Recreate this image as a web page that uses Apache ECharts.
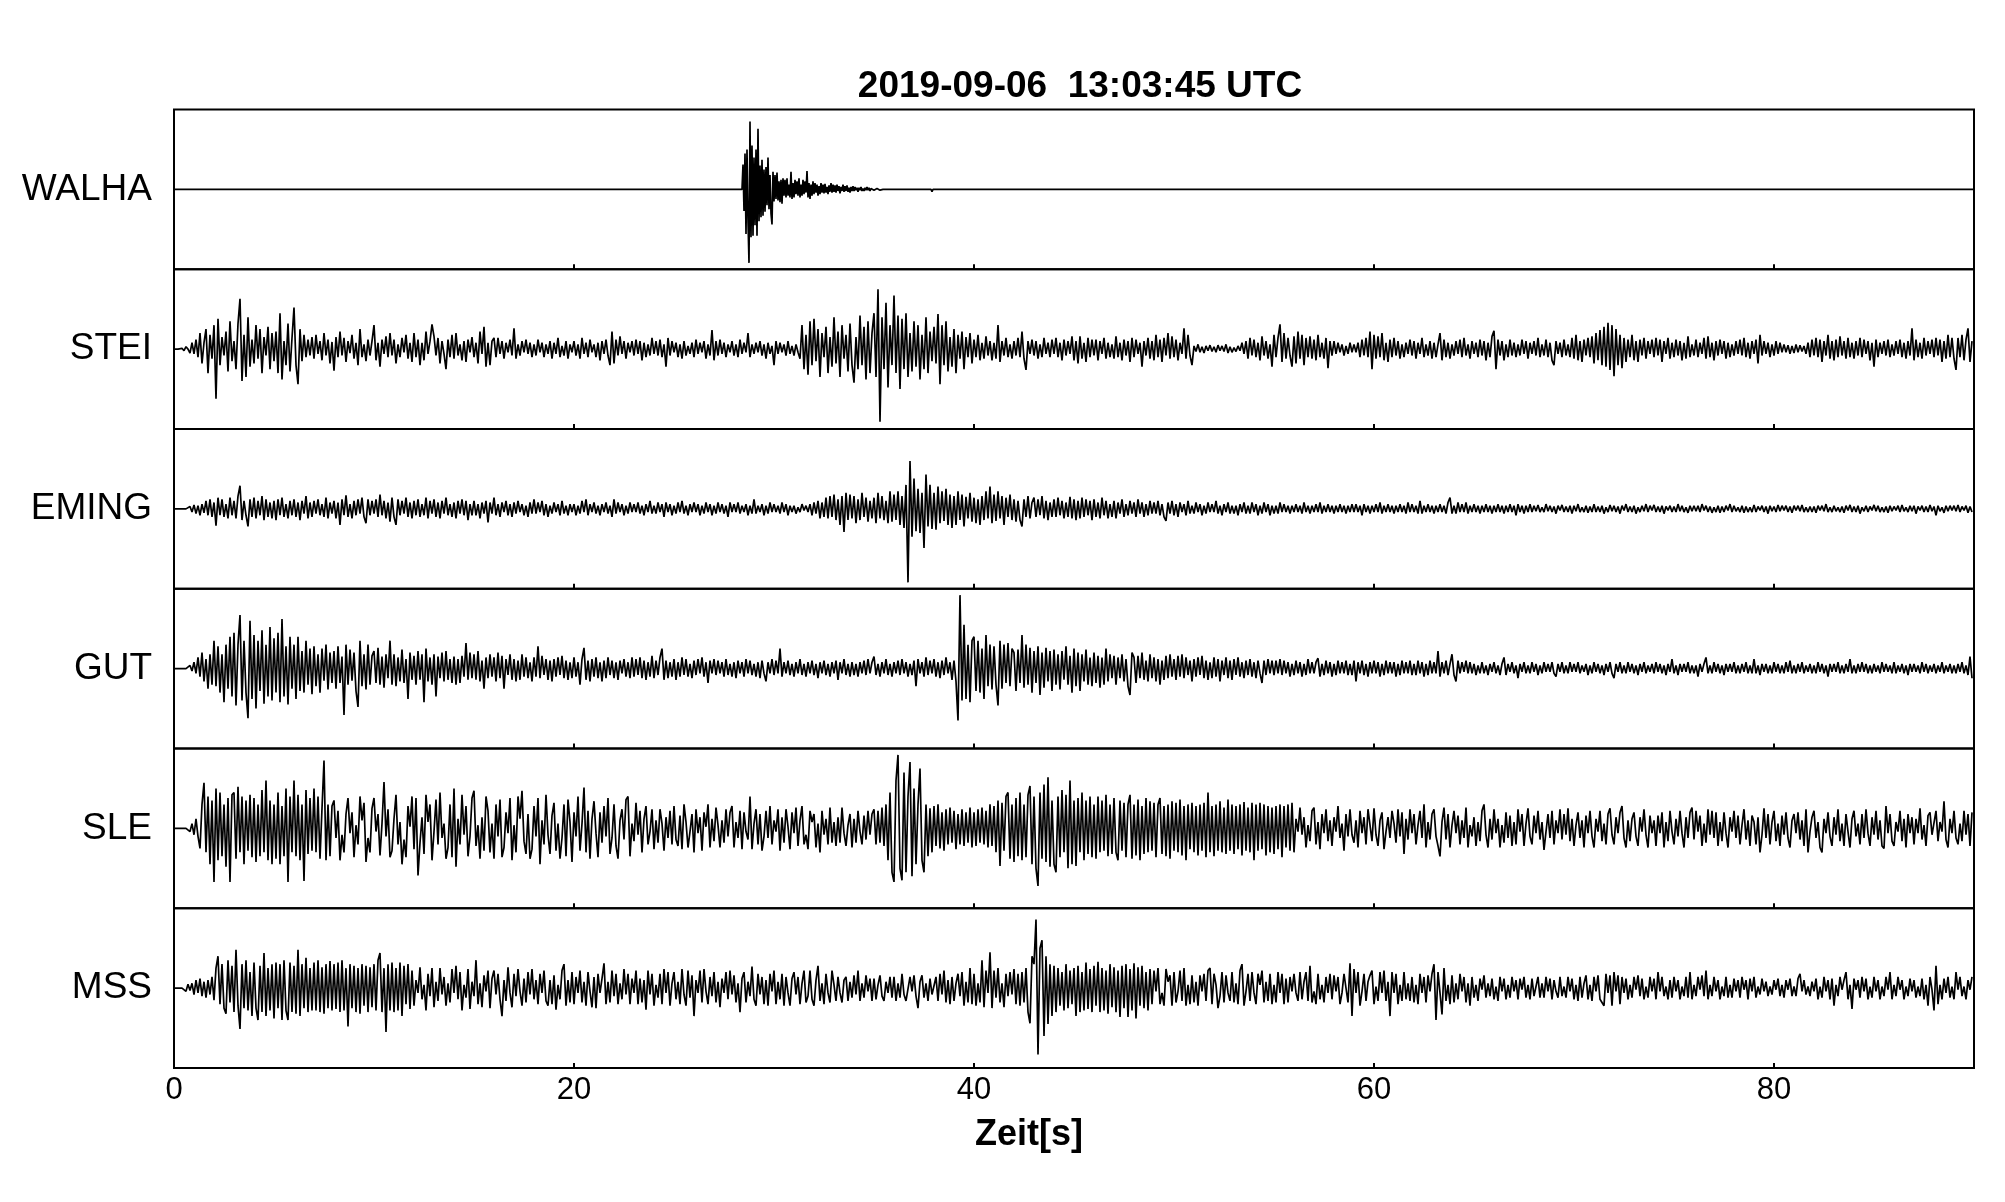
<!DOCTYPE html>
<html>
<head>
<meta charset="utf-8">
<script src="https://cdn.jsdelivr.net/npm/echarts@6/dist/echarts.min.js"></script>
<style>html,body{margin:0;padding:0;background:#fff}#c{width:2005px;height:1202px}</style>
</head>
<body>
<div id="c"></div>
<script>
// ---------------- data ----------------
const titleText = '2019-09-06  13:03:45 UTC';
const xAxisTitle = 'Zeit[s]';
const stations = ['WALHA', 'STEI', 'EMING', 'GUT', 'SLE', 'MSS'];
const xTicks = [0, 20, 40, 60, 80];
const timeMax = 90;
const sampleStep = 0.1; // s, for STEI..MSS

// WALHA: flat except the event, sampled every 0.05 s from 28.40 s
const walhaEventStart = 28.4;
const walhaEventStep = 0.05;
const walhaEvent = [
0,31,-27,45,-56,50,-40,-92,85,-60,55,-58,
40,-45,50,-58,76,-40,30,-35,37,-33,25,-28,28,-20,40,-25,18,-30,-44,22,
-15,18,-12,21,-14,10,-16,12,-18,14,
-8,12,-10,14,-8,6,-10,22,-12,8,
-10,12,-6,10,-8,14,-10,6,-8,12,
-6,10,-4,23,-10,8,-12,6,-8,10,
-6,8,-4,6,-8,4,-6,8,-4,6,
-5,7,-4,3,-6,5,-3,8,-4,6,
-3,5,-4,6,-2,4,-5,3,-2,6,
-3,4,-2,5,-3,2,-4,3,-2,4,
-2,3,-1,2,-3,2,-1,3,-2,1,
-2,2,-1,3,-1,2,-2,1,-1,2,
-1,1,-2,1,0,1,-1,0,1,0,
0,1,0
];
const walhaBlipT = [37.85, 37.9, 37.95];
const walhaBlipV = [0, -3, 0];

const stei = [
0,0,0,0,1,-2,3,0,-5,8,
-6,12,-10,20,-18,8,25,-30,18,-12,
30,-62,38,-20,15,-8,22,-28,35,-15,
10,-25,32,63,-40,18,-35,40,-22,12,
-18,30,-12,25,-30,15,-8,28,-25,20,
-15,22,-30,45,-38,10,-20,32,-28,14,
52,-20,-44,25,-15,18,-10,12,-8,15,
-12,18,-6,10,-14,20,-8,12,-18,9,
-27,15,-10,22,-8,14,-16,10,-5,18,
-12,8,-20,25,-10,6,-15,12,-8,10,
30,-14,8,-22,12,-6,16,-10,20,-8,
12,-18,6,-10,14,-4,18,-12,8,-16,
20,-10,12,-20,8,-14,22,-6,10,31,
16,-8,14,-18,10,-6,-25,12,-10,18,
-12,20,-8,6,-14,10,-16,12,-4,15,
-10,8,-18,22,-6,28,-22,8,-20,10,
14,-10,14,-6,10,-12,8,-4,12,-8,
26,-12,6,-8,10,-4,12,-6,8,-10,
6,-8,12,-4,8,-10,6,-6,10,-12,
8,-6,14,-10,4,-8,10,-12,6,-4,
10,-8,6,-12,14,-6,8,-10,12,-4,
6,-10,8,-14,10,-6,12,-8,-20,22,
-18,12,-8,16,-6,10,-12,8,-4,10,
-8,12,-6,10,-14,8,-10,6,-8,14,
-6,10,-8,12,-10,6,-22,14,-8,10,
-4,8,-10,6,-12,10,-8,4,-6,8,
-10,12,-6,8,-4,10,-12,6,-8,24,
-14,10,-8,12,-6,8,-10,6,-4,10,
-8,6,-10,12,-6,8,-4,20,-10,6,
-6,8,-4,10,-8,6,-12,8,-6,4,
-20,10,-6,8,-4,6,-8,10,-6,4,
-8,6,-4,-12,30,-25,18,-32,35,-20,
38,-15,25,-35,20,-10,28,-30,15,-22,
40,-18,22,-35,30,-12,18,-28,32,-20,
-42,15,-25,42,-20,28,-38,35,-30,20,
45,-35,75,-91,40,-25,58,-48,30,-20,
67,-30,42,-50,38,-25,45,-35,20,-28,
35,-22,30,-38,18,-25,40,-30,22,-15,
28,-18,44,-44,30,-20,35,-28,15,-22,
25,-30,18,-12,22,-25,15,-10,20,-18,
12,-10,18,-14,8,-12,16,-8,10,-14,
8,-12,30,-16,10,-8,14,-10,6,-12,
10,-8,14,-10,22,-12,-26,10,-6,12,
-8,10,-12,6,-10,14,-6,8,-10,12,
-6,14,-10,8,-14,12,-8,10,-6,16,
-14,10,-18,16,-12,8,-16,14,-10,12,
-8,12,-14,10,-6,14,-12,8,-10,6,
-12,16,-10,8,-14,12,-8,10,-16,14,
-10,12,-6,8,-22,10,-8,14,-12,10,
-14,18,-10,12,-16,14,-8,20,-12,16,
-10,12,-14,8,-6,26,-12,18,-8,-20,
4,-3,6,-4,3,-5,4,-2,5,-3,
3,-4,5,-2,4,-3,6,-5,3,-4,
2,-3,4,-2,8,-6,10,-12,14,-8,
12,-10,8,-14,16,-8,10,-12,6,-22,
18,-10,14,31,-16,20,-12,14,-8,-22,
16,-18,22,-12,18,-20,14,-10,16,-12,
12,-14,18,-10,8,-12,14,-24,10,-8,
10,-6,8,-4,6,-8,4,-6,8,-4,
6,-4,8,-10,12,-8,14,-10,22,-25,
18,-12,16,-10,20,-14,8,-16,12,-10,
14,-8,10,-12,6,-10,8,-6,12,-8,
10,-12,8,-6,14,-10,6,-8,10,-12,
8,-10,6,20,-14,12,-10,8,-12,6,
-8,10,-6,12,-10,14,-8,6,-12,10,
-6,8,-10,12,-8,10,-14,8,-10,16,
23,-25,12,-8,10,-14,6,-10,12,-8,
8,-10,6,-8,12,-6,10,-12,8,-6,
10,-8,14,-10,6,-8,12,-10,8,-14,
-20,10,-6,8,-10,12,-8,6,-10,14,
-12,18,-14,10,-16,12,-8,14,-10,16,
-18,20,-14,24,-20,28,-22,33,-26,30,
-34,25,-20,18,-24,14,-16,12,-10,18,
-14,10,-16,12,-8,14,-12,10,-6,12,
-10,14,-8,12,-16,10,-6,14,-12,8,
-10,12,-8,10,-14,8,-12,16,-10,6,
-8,12,-10,8,-6,14,-12,16,-10,8,
-14,10,-8,12,-6,10,-12,8,-10,6,
-8,10,-6,12,-8,14,-10,8,-12,10,
-6,12,-18,18,-8,10,-6,8,-10,6,
-8,10,-6,8,-4,6,-4,5,-6,4,
-5,6,-4,5,-3,4,-6,8,-10,12,
-8,14,-10,12,-16,10,-8,18,-12,10,
-14,12,-10,16,-8,10,-12,14,-10,8,
-12,10,-8,14,-10,12,-6,10,-14,8,
-22,12,-10,8,-6,10,-8,12,-10,6,
-8,10,-6,12,-10,8,-12,10,-8,26,
-14,12,-10,8,-12,14,-8,10,-6,12,
-10,14,-8,12,-16,10,-12,18,-10,14,
-12,-26,14,-10,18,-14,12,26,-16,10
];

const eming = [
0,0,0,0,0,0,0,-2,3,-4,
5,-6,4,-8,6,-5,10,-8,12,-10,
8,-21,14,-8,12,-10,6,-12,14,-8,
10,-12,16,29,-14,10,-8,-22,12,-10,
14,-12,10,-8,16,-14,12,-10,8,-12,
10,-14,12,-8,14,-10,6,-12,10,-8,
12,-10,8,-14,10,-6,16,-12,8,-10,
10,-6,12,-8,6,-10,14,-12,8,-6,
10,-12,8,-20,12,-8,17,-10,6,-12,
10,-8,12,-6,14,-10,-18,12,-8,10,
-6,12,-10,18,-8,10,-12,8,-16,14,
-10,-20,12,-8,10,-6,14,-10,8,-12,
10,-8,12,-10,6,-8,14,-12,10,-6,
12,-10,8,-12,10,-6,14,-8,6,-10,
8,-12,10,-6,12,-8,10,-14,6,-8,
10,-8,6,-12,8,-6,10,-17,8,-6,
14,-8,6,-10,8,-4,10,-8,6,-10,
8,-6,10,-4,6,-8,4,-10,8,-6,
12,-6,8,-4,10,-8,6,-10,4,-6,
8,-4,6,-8,10,-6,4,-8,6,-4,
6,-8,4,-6,10,-4,12,-8,6,-4,
8,-6,4,-8,6,-4,8,-6,4,-10,
12,-6,8,-4,6,-8,4,-6,8,-4,
6,-4,8,-6,4,-8,6,-4,10,-6,
4,-6,8,-4,6,-10,8,-4,6,-8,
4,-6,8,-4,10,-6,4,-8,6,-4,
8,-4,6,-8,4,-6,8,-4,6,-8,
4,-6,8,-4,6,-6,4,-10,8,-4,
6,-4,8,-6,4,-4,6,-8,4,-6,
12,-6,4,-4,6,-8,4,-6,8,-4,
6,-4,4,-6,8,-4,6,-8,4,-4,
4,-6,2,-4,6,-2,4,-4,6,-8,
8,-6,10,-12,8,-10,14,-12,16,-10,
18,-14,12,-20,16,-29,20,-14,18,-12,
16,-18,12,-14,20,-10,14,-16,10,-12,
14,-18,20,-12,16,-14,10,-18,22,-16,
18,-14,22,-20,16,-24,30,-92,60,-35,
38,-28,25,-30,20,-49,43,-22,30,-25,
20,-26,28,-18,22,-15,25,-20,18,-24,
16,-20,22,-14,18,-22,15,-12,20,-16,
14,-18,12,-20,16,-14,22,-12,28,-18,
18,-15,22,-12,16,-20,14,-10,18,-14,
12,-16,10,-14,-22,12,-10,16,-12,8,
14,-10,12,-8,16,-12,10,-14,8,-10,
12,-10,14,-8,10,-12,8,-10,15,-12,
12,-14,10,-12,14,-10,12,-8,10,-14,
12,-10,8,-12,14,-8,10,-12,6,-10,
10,-12,8,-6,12,-10,6,-8,10,-6,
8,-10,12,-6,8,-10,6,-8,10,-6,
8,-6,10,-8,6,-10,-15,8,-6,10,
-8,6,-10,8,-4,6,-8,10,-6,4,
-6,8,-4,6,-8,4,-6,8,-4,6,
-4,10,-6,4,-8,6,-4,8,-6,4,
-6,4,-8,6,-4,8,-6,4,-6,8,
-4,6,-8,4,-6,8,-4,6,-8,4,
-6,4,-6,8,-4,6,-4,4,-6,4,
-4,6,-4,4,-6,8,-4,4,-6,4,
-4,6,-4,8,-6,4,-4,6,-4,4,
-6,4,-4,6,-4,4,-6,4,-4,6,
-4,6,-4,4,-8,6,-4,4,-6,4,
-4,6,-4,8,-6,4,-4,6,-4,4,
-6,4,-4,6,-4,4,-6,8,-4,6,
-4,4,-6,10,-6,4,-4,6,-4,4,
-6,4,-4,6,-4,4,-6,8,14,-6,
4,-6,8,-4,6,-4,8,-6,4,-4,
6,-4,4,-6,4,-4,6,-4,4,-6,
4,-4,6,-4,4,-6,4,-4,6,-4,
4,-8,6,-4,4,-6,4,-4,6,-4,
4,-3,5,-4,2,-4,6,-3,4,-4,
3,-6,4,-2,5,-4,3,-4,4,-6,
4,-3,6,-4,2,-4,4,-5,3,-4,
6,-4,3,-4,4,-6,2,-4,5,-3,
4,-4,3,-6,4,-2,6,-4,3,-4,
4,-6,2,-4,4,-3,6,-4,4,-2,
5,-4,3,-4,4,-6,3,-2,4,-4,
3,-4,6,-3,4,-4,2,-5,4,-3,
4,-3,4,-4,6,-2,4,-4,3,-5,
2,-4,4,-5,3,-4,4,-2,6,-4,
4,-3,2,-4,4,-5,3,-4,2,-4,
5,-4,3,-2,4,-4,3,-6,4,-3,
3,-4,5,-3,4,-2,4,-4,3,-5,
4,-2,4,-3,5,-4,2,-4,3,-4,
3,-5,4,-2,4,-3,6,-4,2,-4,
4,-3,2,-4,3,-5,4,-2,5,-4,
3,-4,4,-6,2,-3,4,-4,3,-2,
5,-3,4,-4,2,-4,3,-5,4,-3,
3,-2,4,-4,5,-3,2,-4,4,-3,
4,-6,3,-2,4,-4,3,-4,5,-3,
3,-8,4,-3,2,-5,4,-3,4,-2,
4,-3,5,-4,3,-2,4,-5,3,-4
];

const gut = [
0,0,0,0,0,0,0,-2,4,-3,
8,-6,14,-10,20,-16,12,-25,18,-20,
35,-22,28,-30,18,-42,30,-25,40,-35,
45,-46,30,67,-40,35,-30,-62,60,-38,
42,-50,35,-28,48,-44,30,-35,52,-40,
38,-30,45,-42,62,-35,28,-45,40,-25,
30,-38,40,-28,22,-30,35,-20,25,-32,
28,-22,18,-30,25,-15,30,-26,20,-18,
22,-25,28,-18,15,-58,30,-20,24,-15,
20,-28,-48,35,-22,18,-26,30,-20,16,
22,-18,26,-20,15,-24,18,-12,35,-20,
18,-22,14,-16,24,-18,12,-38,20,-14,
16,-20,22,-14,18,-42,25,-16,14,-20,
18,-35,15,-12,20,-16,22,-14,12,-18,
15,-20,12,-18,16,-10,32,-14,20,-12,
18,-14,22,-16,10,-25,14,-12,18,-10,
14,-16,20,-12,16,-25,12,-8,18,-14,
12,-16,10,-14,18,-10,14,-12,8,-16,
14,-10,28,-12,16,-8,12,-14,10,-16,
12,-10,14,-8,16,-12,10,-14,8,-12,
14,-10,8,-20,12,26,-14,10,-16,12,
-10,14,-12,8,-16,10,-12,14,-8,10,
-12,8,-14,10,-6,12,-10,8,-12,14,
-10,12,-8,14,-12,10,-14,8,-10,16,
-12,10,-8,14,25,-14,10,-12,8,-10,
12,-14,8,-10,14,-8,12,-10,6,-12,
10,-8,12,-6,14,-10,8,-18,10,-6,
12,-8,10,-6,8,-10,12,-8,6,-10,
8,-12,10,-6,8,-10,12,-6,10,-8,
6,-10,8,-12,10,-6,-16,8,-6,12,
-8,10,-6,25,-10,8,-6,10,-8,6,
-10,8,-6,12,-8,6,-10,8,-6,10,
-8,6,-12,8,-6,10,-8,6,-10,8,
-6,10,-14,8,-6,12,-8,6,-10,8,
-8,6,-10,8,-6,10,-8,12,-6,8,
15,-8,6,-10,8,-6,12,-8,6,-10,
8,-6,10,-8,12,-6,8,-10,6,-8,
10,-22,12,-6,8,-10,14,-8,10,-6,
12,-10,8,-12,10,-8,14,-6,8,-14,
10,-16,-65,92,-40,55,-38,30,-42,35,
40,-28,35,-30,25,-38,42,-22,30,-26,
28,-20,-46,35,-25,30,-18,32,-22,25,
20,-28,24,-18,42,-24,30,-20,26,-30,
22,-18,28,-33,20,-24,26,-16,22,-28,
24,-20,18,-26,22,-14,28,-20,16,-30,
25,-22,20,-28,18,-16,24,-20,14,-22,
20,-18,16,-24,14,-20,25,-16,18,-12,
16,-20,14,-12,18,-16,12,-22,-33,20,
14,-18,16,-12,20,-14,10,-16,18,-12,
14,-16,12,-20,10,-14,16,-12,18,-10,
12,-14,16,-10,18,-12,14,-8,10,-16,
12,-10,14,-8,16,-12,10,-14,8,-12,
14,-10,12,-16,10,-8,14,-12,10,-14,
12,-8,14,-10,8,-12,10,-8,12,-10,
8,-12,10,-6,-18,10,-8,12,-6,10,
-8,10,-6,12,-8,10,-6,8,-10,6,
-8,10,-6,8,-10,6,-8,12,-6,8,
-6,8,13,-10,6,-8,10,-6,8,-10,
6,-8,10,-6,8,-6,10,-8,6,-8,
10,-16,8,-6,10,-8,6,-10,8,-6,
10,-6,8,-10,6,-8,10,-6,8,-6,
8,-10,6,-8,10,-6,8,-6,10,-8,
6,-8,10,-6,8,-10,6,-8,10,-6,
8,-6,22,-10,8,-6,10,-8,6,18,
-8,-16,10,-6,8,-4,10,-6,8,-6,
6,-8,4,-6,8,-6,4,-8,6,-4,
8,-6,4,-8,6,14,-8,6,-4,8,
-6,4,-12,6,-4,8,-6,4,-6,8,
-4,6,-8,4,-6,8,-4,6,-4,8,
-6,-10,6,-4,8,-6,4,-6,8,-4,
6,-4,8,-6,4,-4,6,-8,4,-6,
8,-4,6,-6,4,-8,6,-4,8,-6,
-12,6,-4,8,-6,4,-6,8,-4,6,
-6,4,-8,6,-4,8,-6,4,-4,6,
-6,8,-4,6,-6,4,-8,6,-4,12,
-6,4,-8,6,-4,6,-4,8,-6,4,
-6,4,-10,6,-4,6,14,-6,4,-6,
8,-4,6,-6,4,-8,6,-4,6,-4,
8,-6,4,-6,6,-4,8,-6,4,-6,
12,-6,4,-8,6,-4,6,-6,4,-6,
8,-4,6,-6,4,-6,8,-4,10,-6,
4,-6,6,-4,8,-6,4,-4,6,-6,
4,-6,8,-4,6,-6,4,-10,6,-4,
6,-4,8,-6,4,-6,6,-4,12,-6,
4,-6,6,-4,8,-4,6,-6,4,-6,
6,-4,4,-6,8,-4,6,-4,4,-6,
8,-6,4,-4,6,-6,4,-8,6,-4,
6,-4,4,-6,8,-4,6,-6,4,-4,
6,-6,4,-4,8,-6,4,-4,6,-6,
4,-6,6,-4,8,-6,4,-8,15,-12
];

const sle = [
0,0,0,0,0,0,0,2,-4,6,
-8,12,-10,-25,30,57,-30,40,-45,35,
-67,50,-40,45,-35,30,-48,38,-67,42,
45,-38,52,-30,40,-45,35,-28,42,-36,
38,-42,30,-35,48,-30,60,-40,35,-45,
30,-38,45,-45,28,-35,50,-67,40,-30,
60,-35,42,-40,30,-66,48,-32,38,-28,
50,-30,40,-38,25,85,-40,30,-35,28,
35,-12,22,-40,-8,-30,18,38,-6,20,
-36,4,-20,40,10,32,-42,-12,-30,25,
38,-4,18,-34,6,58,-10,24,-36,-28,
12,42,-20,8,-45,-14,-36,28,2,40,
-26,38,-59,-18,14,-32,42,8,30,-40,
-4,36,-20,45,-12,6,-38,-24,30,-36,
50,-48,12,-20,42,-8,28,-35,-10,38,
47,-22,4,-38,14,-28,40,22,-30,6,
-38,30,-10,36,-36,-24,20,-6,38,-40,
4,-30,40,12,47,-16,-32,18,-38,-26,
28,-10,38,-45,10,-20,42,-8,-32,16,
32,-28,6,-38,-12,30,-35,36,8,-42,
20,-10,40,-28,6,51,-30,22,-38,12,
34,-6,-36,20,-18,28,-10,38,-32,-12,
30,-22,-38,10,24,-14,36,40,-35,6,
-16,32,-8,22,-30,12,28,-20,-4,24,
-26,10,-18,24,6,-28,14,-12,22,-20,
28,-14,-22,16,-26,30,8,-24,-4,18,
-30,24,-6,14,-28,20,2,30,-24,12,
-16,26,4,-24,10,-18,24,-10,20,28,
-24,8,-12,22,-26,20,-4,-14,40,-26,
6,24,-20,18,-28,-10,22,-12,28,-20,
10,-4,24,-28,14,-18,24,2,-26,20,
-6,26,-22,10,28,-20,-8,-26,22,8,
18,-24,6,-30,22,-8,12,-20,26,-18,
8,-22,14,-18,26,-6,-22,4,18,-24,
12,-18,22,-4,-20,16,-14,22,-8,18,
24,-20,22,-18,26,-22,30,-40,45,-55,
-67,60,92,-50,-65,70,-55,40,83,-60,
50,-45,30,75,-40,-55,30,-35,25,-30,
28,-22,30,-25,20,-28,24,-20,26,-18,
22,-26,18,-20,24,-22,20,-18,26,-24,
20,-22,24,-18,26,-20,22,-24,30,-22,
28,-30,35,-47,32,-28,40,45,-38,30,
-42,38,-35,45,-40,30,-36,42,53,-45,
40,-50,-72,45,-38,55,-42,64,-48,35,
-45,-55,40,-36,48,-30,42,-50,60,-45,
35,-47,38,-30,45,-40,35,-32,40,-36,
30,-38,40,-30,35,-28,42,-35,30,-32,
38,-30,-40,35,-28,32,-36,30,42,-38,
30,-34,36,-40,28,-32,38,-30,34,-28,
32,-36,30,38,-32,28,-35,30,-38,34,
-28,32,-30,36,-34,28,-40,30,-26,32,
-30,28,-34,30,-28,32,-36,45,-30,28,
-35,30,-28,34,-30,26,-32,36,-28,30,
-32,28,-26,30,-34,33,-28,26,-30,32,
-40,30,-28,32,-26,30,-34,28,-30,26,
-32,28,-26,30,-36,28,-24,30,-28,32,
-30,12,-4,26,-8,14,-24,4,-16,22,
26,-20,8,-26,18,-6,24,-16,10,-22,
14,-4,28,-12,6,-28,18,-10,24,-8,
-18,10,-24,22,-6,14,-20,24,4,-16,
25,-8,-22,10,20,-26,-4,14,-12,22,
6,-18,24,-10,20,-32,12,-14,24,-6,
18,-20,4,22,-12,30,-24,8,-14,18,
24,-10,-22,-35,8,26,-14,18,-24,4,
22,-6,16,-20,10,-12,26,-24,4,-10,
14,-22,8,-16,22,30,-8,-24,12,-14,
24,-6,12,-24,4,-18,20,-12,16,-22,
8,-20,24,-4,18,-22,6,25,-10,-20,
16,-6,22,-14,8,-27,-4,18,-12,22,
-20,10,-6,24,-14,18,-8,25,-16,12,
-22,4,20,-12,10,-24,16,-6,22,-10,
-24,12,-4,22,-16,6,-20,18,25,-8,
-20,14,-6,20,28,-12,-24,10,-16,12,
20,-10,-22,14,-4,24,-8,-24,16,-6,
10,-22,16,-6,20,-24,8,-16,22,-4,
-20,12,-10,22,-6,-24,14,-12,20,26,
-14,22,-4,16,-22,6,-18,24,-8,22,
-12,20,-22,8,-16,20,-6,-24,14,-4,
22,-12,16,-20,4,24,-14,10,-22,16,
8,-20,14,-30,-8,25,-12,18,-20,8,
22,-16,6,-22,16,-8,20,-12,-24,10,
18,-6,20,-14,10,-22,24,-30,-4,14,
22,-12,8,-24,-30,12,-6,20,-10,-22,
14,-8,24,-16,6,-22,18,-4,-24,12,
22,-10,6,-20,18,-12,24,-6,-22,14,
-8,22,-14,10,-22,-25,28,-6,18,-16,
-22,8,-4,22,-16,12,-24,18,-6,14,
-20,12,-6,25,-14,4,-22,16,20,-8,
-10,22,-16,8,-4,34,-14,-24,12,-6,
22,-12,-20,6,-16,22,-8,18,-22,20
];

const mss = [
0,0,0,0,0,2,-4,5,-3,6,
-8,10,-6,12,-10,8,-12,10,-8,14,
-15,25,40,-20,30,-25,-32,35,-18,28,
-30,48,-22,-51,30,-25,35,-28,20,-35,
32,-25,-40,28,-30,44,-35,25,-28,30,
-38,32,-25,30,-40,35,-28,-40,32,-30,
28,-32,48,-35,30,-25,38,-30,25,-28,
32,-28,35,-30,26,-32,30,-25,34,-28,
30,-26,32,-30,35,-28,25,-48,30,-25,
28,-30,25,-32,30,-22,28,-30,26,-24,
30,-28,35,44,-30,25,-55,30,-28,32,
-30,25,-28,32,-35,28,-20,30,-26,22,
-22,10,-6,26,-14,4,-28,18,-10,25,
-24,8,-16,25,-8,14,-22,6,-18,24,
-6,28,-14,20,-28,4,-12,24,-26,8,
-10,35,-20,6,-24,16,-4,22,-25,12,
22,-8,18,-14,-35,10,-16,26,-6,-24,
18,-10,24,-4,-22,12,-18,20,-8,24,
-14,10,-20,18,-6,22,-16,-22,10,-20,
16,-27,4,-14,22,30,-22,10,-18,20,
-20,14,-6,22,-18,8,-22,20,-4,-24,
14,-25,18,-6,12,31,-20,8,-18,22,
-10,18,-20,6,-14,24,-8,18,-20,12,
-6,22,-20,12,-18,10,-27,22,-8,18,
-22,4,-12,18,-20,24,-6,20,-22,6,
20,-14,8,-20,24,-8,-22,22,-12,16,
-35,10,-6,22,-18,24,-4,-20,14,-10,
20,-18,8,-24,12,-6,20,-14,22,-8,
16,-18,6,-30,12,20,-18,8,-10,27,
-14,-22,18,-8,14,-20,10,-22,18,-4,
22,-20,8,-14,18,-22,14,-6,-22,12,
20,-8,14,-20,6,22,-18,-10,22,-14,
-22,10,28,-16,6,-20,18,-6,-18,22,
4,-16,14,-6,-18,10,14,-16,8,-12,
16,-8,22,-16,6,-12,16,-4,12,-16,
12,-14,4,16,-10,-16,8,-6,14,-12,
14,-16,6,-12,18,-8,-16,-18,14,-4,
16,-10,-25,8,16,-12,6,-16,12,-8,
-6,14,-16,18,-8,22,-18,10,-20,14,
-16,6,18,-10,20,-22,8,-18,25,-20,
18,-22,6,-18,35,-24,22,-6,45,-25,
22,-12,25,-18,6,-24,18,-10,20,-8,
24,-20,18,-22,20,-18,25,-30,-44,40,
30,86,-83,50,60,-60,40,-45,30,-35,
28,-30,25,-22,20,-28,30,-25,22,-20,
25,-35,28,-30,20,-28,32,-26,24,-30,
28,-22,33,-30,25,-28,22,-32,30,-24,
26,-30,22,-36,28,-25,30,-36,24,-28,
31,-38,26,-22,28,-25,20,-28,24,-20,
22,-4,25,-20,-6,-22,24,8,16,-22,
20,-18,-4,22,-16,25,-22,4,-20,16,
-18,8,-22,16,-4,18,-16,22,25,-20,
18,4,-25,-10,20,-18,16,-6,-16,20,
-18,6,-20,22,30,-22,-4,18,-16,20,
-6,-20,18,4,22,-18,8,-16,18,-20,
4,-18,20,-6,18,-20,12,-18,14,-4,
18,-6,-16,20,-14,8,20,-16,28,-18,
-4,-20,18,-14,4,-18,14,-6,18,-14,
16,-4,14,-20,-6,18,20,-18,31,-35,
24,-6,20,-22,-4,18,-16,8,16,22,
-20,2,-16,20,-6,22,-16,8,-35,20,
-6,18,-20,4,-16,20,-14,6,-16,14,
-18,4,-20,18,-6,14,-18,16,-4,18,
30,-40,20,-6,-33,25,-16,4,-20,16,
-18,6,-14,18,-4,14,-18,6,-22,14,
-12,4,-16,12,-2,16,-12,6,-10,12,
-14,2,-16,14,-4,12,-14,4,-12,14,
-4,10,-14,12,-2,14,-12,4,-14,12,
-10,2,14,-12,6,-12,14,-4,12,-14,
10,-4,-12,14,-10,2,-12,14,-4,12,
-14,4,-16,14,-12,6,16,-14,4,-16,
14,-4,16,-14,-18,-22,18,-6,16,-22,
20,-4,16,-20,14,-6,12,-14,4,-12,
14,-2,16,-10,12,-14,2,-12,14,-4,
12,-14,20,-4,14,-10,2,-14,10,-12,
14,-4,10,-14,2,-10,14,-12,20,-14,
4,-10,14,-2,16,-10,22,-14,4,-10,
14,-4,10,-14,2,-10,14,-12,4,-12,
12,-4,10,-12,14,-2,10,-14,12,-4,
14,-12,2,-8,12,-4,8,-10,2,-8,
10,-2,12,-10,4,-12,10,-2,12,-10,
2,-10,12,18,-4,10,-8,2,-10,8,
-4,12,-14,2,-12,14,-4,10,-14,12,
-22,4,-10,14,-2,10,20,-14,4,-26,
12,-2,10,-12,14,-4,12,-14,2,-12,
14,-4,10,-14,2,-10,14,-2,20,-14,
4,-10,14,-2,10,-14,2,-10,12,-4,
10,-12,2,-10,12,-14,4,-22,14,-2,
-28,28,-20,4,-14,12,-6,14,-12,2,
-14,20,-2,14,-10,2,-14,10,-2,14
];

// ---------------- chart ----------------
const FONT = 'Liberation Sans, Arial, sans-serif';
const PLOT_LEFT = 174, PLOT_WIDTH = 1800, PLOT_TOP = 109.5, PANEL_H = 159.75;

function sampled(vals, t0, step) {
  return vals.map((v, i) => [Math.round((t0 + i * step) * 1000) / 1000, v]);
}
const walhaData = [[0, 0]]
  .concat(sampled(walhaEvent, walhaEventStart, walhaEventStep))
  .concat(walhaBlipT.map((t, i) => [t, walhaBlipV[i]]))
  .concat([[timeMax, 0]]);
const traces = [walhaData, sampled(stei, 0, sampleStep), sampled(eming, 0, sampleStep),
  sampled(gut, 0, sampleStep), sampled(sle, 0, sampleStep), sampled(mss, 0, sampleStep)];

const chart = echarts.init(document.getElementById('c'), null, {renderer: 'canvas'});
const n = stations.length;
const option = {
  animation: false,
  backgroundColor: '#ffffff',
  title: {
    text: titleText, left: 1075, top: 63, textAlign: 'center',
    textStyle: {fontFamily: FONT, fontSize: 37, fontWeight: 'bold', color: '#000'}
  },
  grid: stations.map((s, i) => ({
    left: PLOT_LEFT, width: PLOT_WIDTH, top: PLOT_TOP + i * PANEL_H, height: PANEL_H,
    show: true, borderColor: '#000', borderWidth: 2, backgroundColor: 'transparent'
  })),
  xAxis: stations.map((s, i) => ({
    type: 'value', gridIndex: i, position: 'bottom', min: 0, max: timeMax, interval: xTicks[1] - xTicks[0],
    axisLine: {show: false, onZero: false}, splitLine: {show: false},
    axisTick: {show: true, inside: true, length: 5, lineStyle: {color: '#000', width: 2}},
    axisLabel: {show: i === n - 1, showMaxLabel: false, color: '#000', fontFamily: FONT, fontSize: 31, margin: 7}
  })),
  yAxis: stations.map((s, i) => ({type: 'value', gridIndex: i, min: -100, max: 100, show: false})),
  series: traces.map((d, i) => ({
    type: 'line', xAxisIndex: i, yAxisIndex: i, data: d, showSymbol: false, symbol: 'none',
    lineStyle: {color: '#000', width: 1.7}, silent: true
  })),
  graphic: stations.map((s, i) => ({
    type: 'text', x: 152, y: PLOT_TOP + (i + 0.5) * PANEL_H,
    style: {text: s, fill: '#000', font: '37px ' + FONT, textAlign: 'right', textVerticalAlign: 'middle'}
  })).concat([{
    type: 'text', x: 1029, y: 1135,
    style: {text: xAxisTitle, fill: '#000', font: 'bold 36px ' + FONT, textAlign: 'center', textVerticalAlign: 'middle'}
  }])
};
chart.setOption(option);
</script>
</body>
</html>
